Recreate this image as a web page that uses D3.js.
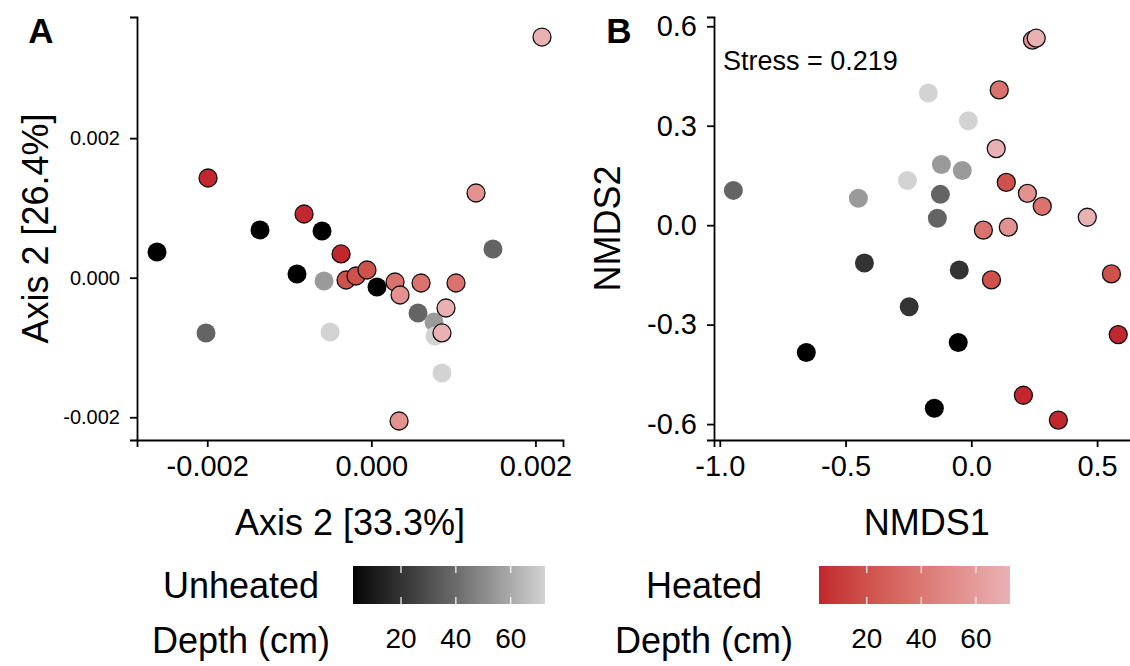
<!DOCTYPE html>
<html>
<head>
<meta charset="utf-8">
<script src="https://cdn.jsdelivr.net/npm/d3@7"></script>
<style>
  body { margin: 0; background: #fff; }
  svg { display: block; font-family: "Liberation Sans", Arial, sans-serif; }
</style>
</head>
<body>
<svg id="chart" width="1130" height="666"></svg>
<script>
// PCoA scores: [axis 1, axis 2, depth (cm)]
const pcoaUnheated = [
  [-0.002612, 0.000368, 2.5], [-0.001357, 0.000684, 2.5], [-0.000601, 0.000669, 2.5],
  [-0.000906, 0.000053, 2.5], [0.000069, -0.000133, 2.5],
  [-0.002015, -0.000792, 37.5], [0.001482, 0.000411, 37.5], [0.000569, -0.000506, 37.5],
  [-0.000576, -0.000047, 55], [0.000764, -0.000635, 55],
  [-0.000503, -0.000778, 72.5], [0.000776, -0.000835, 72.5], [0.000861, -0.001366, 72.5]
];
const pcoaHeated = [
  [-0.00199, 0.001429, 2.5], [-0.00082, 0.000913, 2.5], [-0.000369, 0.00034, 2.5],
  [-0.000308, -0.000033, 20], [-0.000187, 0.000024, 20], [-0.000053, 0.00011, 20],
  [0.000289, -0.000062, 37.5], [0.000606, -0.000076, 37.5], [0.001032, -0.000076, 37.5],
  [0.00035, -0.000248, 55], [0.001276, 0.001214, 55], [0.000338, -0.002054, 55],
  [0.00091, -0.000434, 72.5], [0.000861, -0.000792, 72.5], [0.00208, 0.003449, 72.5]
];

// NMDS scores: [NMDS1, NMDS2, depth (cm)]
const nmdsUnheated = [
  [-0.656, -0.384, 2.5], [-0.147, -0.552, 2.5], [-0.052, -0.354, 2.5],
  [-0.048, -0.135, 20], [-0.247, -0.246, 20], [-0.425, -0.114, 20],
  [-0.946, 0.105, 37.5], [-0.123, 0.093, 37.5], [-0.135, 0.021, 37.5],
  [-0.449, 0.081, 55], [-0.119, 0.183, 55], [-0.036, 0.165, 55],
  [-0.171, 0.399, 72.5], [-0.012, 0.315, 72.5], [-0.254, 0.135, 72.5]
];
const nmdsHeated = [
  [0.584, -0.330, 2.5], [0.207, -0.513, 2.5], [0.346, -0.588, 2.5],
  [0.139, 0.129, 20], [0.080, -0.165, 20], [0.557, -0.147, 20],
  [0.111, 0.408, 37.5], [0.282, 0.057, 37.5], [0.048, -0.015, 37.5],
  [0.223, 0.096, 55], [0.147, -0.006, 55], [0.243, 0.558, 55],
  [0.258, 0.564, 72.5], [0.099, 0.231, 72.5], [0.461, 0.024, 72.5]
];

const pcoaTicks = [-0.002, 0, 0.002];
const nmdsXTicks = [-1.0, -0.5, 0.0, 0.5];
const nmdsYTicks = [-0.6, -0.3, 0.0, 0.3, 0.6];
const depthTicks = [20, 40, 60];
const depthRange = [2.5, 72.5];
const stressValue = 0.219;

const svg = d3.select("#chart");
svg.append("rect").attr("width", 1130).attr("height", 666).attr("fill", "#fff");

const locale = d3.formatLocale({ decimal: ".", thousands: ",", grouping: [3], currency: ["", ""], minus: "-" });
const fmt3 = locale.format(".3f");
const fmt1 = locale.format(".1f");

const greyScale = d3.scaleLinear().domain(depthRange)
  .range(["#000000", "#d3d3d3"]).interpolate(d3.interpolateLab);
const redScale = d3.scaleLinear().domain(depthRange)
  .range(["#c1272d", "#e9b1b4"]).interpolate(d3.interpolateLab);

const plotTop = 17, plotBottom = 440;

function drawPanel(opt) {
  const x = d3.scaleLinear().domain(opt.xDomain).range(opt.xRange);
  const y = d3.scaleLinear().domain(opt.yDomain).range([plotBottom, plotTop]);
  const g = svg.append("g");

  // unheated first, heated on top with outline
  g.selectAll("circle.u").data(opt.unheated).join("circle")
    .attr("class", "u")
    .attr("cx", d => x(d[0])).attr("cy", d => y(d[1])).attr("r", 9.5)
    .attr("fill", d => greyScale(d[2]));
  g.selectAll("circle.h").data(opt.heated).join("circle")
    .attr("class", "h")
    .attr("cx", d => x(d[0])).attr("cy", d => y(d[1])).attr("r", 9)
    .attr("fill", d => redScale(d[2]))
    .attr("stroke", "#111").attr("stroke-width", 1.3);

  const xAxis = g.append("g")
    .attr("transform", `translate(0,${plotBottom})`)
    .call(d3.axisBottom(x).tickValues(opt.xTicks).tickFormat(opt.xFormat)
      .tickSizeOuter(0).tickSize(7).tickPadding(8));
  xAxis.selectAll("text").attr("font-size", 29).attr("fill", "#000");

  const yAxis = g.append("g")
    .attr("transform", `translate(${opt.xRange[0]},0)`)
    .call(d3.axisLeft(y).tickValues(opt.yTicks).tickFormat(opt.yFormat)
      .tickSizeOuter(0).tickSize(7).tickPadding(opt.yPad));
  yAxis.selectAll("text").attr("font-size", opt.yFont).attr("fill", "#000");

  [xAxis, yAxis].forEach(a => {
    a.select(".domain").attr("stroke", "#000").attr("stroke-width", 1.8);
    a.selectAll(".tick line").attr("stroke", "#000").attr("stroke-width", 1.8);
  });

  // x axis title
  g.append("text")
    .attr("x", (opt.xRange[0] + opt.xRange[1]) / 2).attr("y", 535)
    .attr("text-anchor", "middle").attr("font-size", 36)
    .text(opt.xTitle);
  // y axis title
  g.append("text")
    .attr("transform", `translate(${opt.yTitleX},${(plotTop + plotBottom) / 2}) rotate(-90)`)
    .attr("text-anchor", "middle").attr("font-size", 36)
    .text(opt.yTitle);
  // panel tag
  g.append("text")
    .attr("x", opt.tagX).attr("y", 43)
    .attr("text-anchor", "middle").attr("font-size", 35).attr("font-weight", "bold")
    .text(opt.tag);
  return { x, y, g };
}

drawPanel({
  unheated: pcoaUnheated, heated: pcoaHeated,
  xDomain: [-0.002856, 0.002336], xRange: [137, 563],
  yDomain: [-0.002326, 0.003736],
  xTicks: pcoaTicks, yTicks: pcoaTicks,
  xFormat: fmt3, yFormat: fmt3, yFont: 20, yPad: 10,
  xTitle: "Axis 2 [33.3%]", yTitle: "Axis 2 [26.4%]", yTitleX: 48,
  tag: "A", tagX: 41
});

const b = drawPanel({
  unheated: nmdsUnheated, heated: nmdsHeated,
  xDomain: [-1.023, 0.669], xRange: [714, 1139.6],
  yDomain: [-0.648, 0.628],
  xTicks: nmdsXTicks, yTicks: nmdsYTicks,
  xFormat: fmt1, yFormat: fmt1, yFont: 29, yPad: 10,
  xTitle: "NMDS1", yTitle: "NMDS2", yTitleX: 620,
  tag: "B", tagX: 619
});

b.g.append("text")
  .attr("x", 723).attr("y", 70).attr("font-size", 27)
  .text(`Stress = ${stressValue}`);

// colour bar legends
function drawLegend(title, colour, cx, barX) {
  const id = "grad-" + title;
  const depth = d3.scaleLinear().domain(depthRange).range(barX);
  const grad = svg.append("defs").append("linearGradient").attr("id", id);
  d3.range(0, 1.0001, 0.05).forEach(t => {
    grad.append("stop").attr("offset", t)
      .attr("stop-color", colour(depthRange[0] + t * (depthRange[1] - depthRange[0])));
  });
  const g = svg.append("g");
  const barTop = 566, barH = 38;
  g.append("rect").attr("x", barX[0]).attr("y", barTop)
    .attr("width", barX[1] - barX[0]).attr("height", barH)
    .attr("fill", `url(#${id})`);
  depthTicks.forEach(t => {
    g.append("line").attr("x1", depth(t)).attr("x2", depth(t))
      .attr("y1", barTop).attr("y2", barTop + 7).attr("stroke", "#fff").attr("stroke-width", 1.2);
    g.append("line").attr("x1", depth(t)).attr("x2", depth(t))
      .attr("y1", barTop + barH - 7).attr("y2", barTop + barH).attr("stroke", "#fff").attr("stroke-width", 1.2);
    g.append("text").attr("x", depth(t)).attr("y", 648)
      .attr("text-anchor", "middle").attr("font-size", 28).text(t);
  });
  g.append("text").attr("x", cx).attr("y", 598)
    .attr("text-anchor", "middle").attr("font-size", 36).text(title);
  g.append("text").attr("x", cx).attr("y", 653)
    .attr("text-anchor", "middle").attr("font-size", 36).text("Depth (cm)");
}

drawLegend("Unheated", greyScale, 241, [353, 545]);
drawLegend("Heated", redScale, 704, [819, 1010]);
</script>
</body>
</html>
